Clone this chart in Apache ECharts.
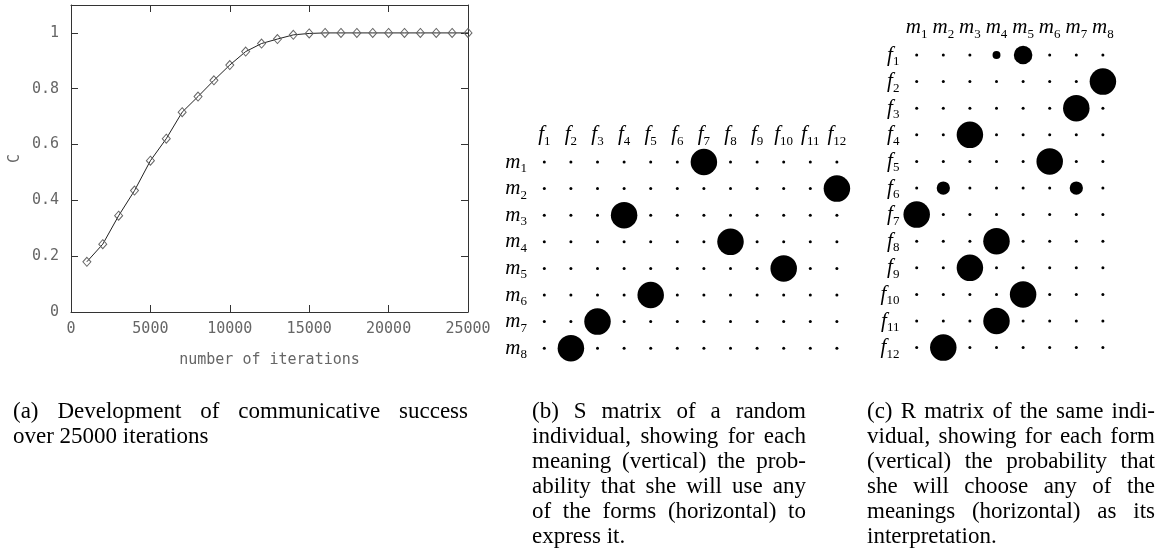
<!DOCTYPE html>
<html>
<head>
<meta charset="utf-8">
<script src="https://cdn.jsdelivr.net/npm/echarts@6/dist/echarts.min.js"></script>
<style>
  html, body { margin: 0; padding: 0; background: #fff; }
  #chart { width: 1162px; height: 552px; }
</style>
</head>
<body>
<div id="chart"></div>
<script>
// (a) communicative success over iterations
const iterations = [1000, 2000, 3000, 4000, 5000, 6000, 7000, 8000, 9000, 10000,
  11000, 12000, 13000, 14000, 15000, 16000, 17000, 18000, 19000, 20000,
  21000, 22000, 23000, 24000, 25000];
const successRate = [0.180, 0.243, 0.345, 0.435, 0.542, 0.621, 0.716, 0.772, 0.830, 0.885,
  0.933, 0.962, 0.978, 0.993, 0.998, 1, 1, 1, 1, 1,
  1, 1, 1, 1, 1];

// labels for the matrices
const formLabels = ['f1', 'f2', 'f3', 'f4', 'f5', 'f6', 'f7', 'f8', 'f9', 'f10', 'f11', 'f12'];
const meaningLabels = ['m1', 'm2', 'm3', 'm4', 'm5', 'm6', 'm7', 'm8'];

// (b) S matrix: rows = meanings, columns = forms
const sMatrix = [
  [0, 0, 0, 0, 0, 0, 1, 0, 0, 0, 0, 0],
  [0, 0, 0, 0, 0, 0, 0, 0, 0, 0, 0, 1],
  [0, 0, 0, 1, 0, 0, 0, 0, 0, 0, 0, 0],
  [0, 0, 0, 0, 0, 0, 0, 1, 0, 0, 0, 0],
  [0, 0, 0, 0, 0, 0, 0, 0, 0, 1, 0, 0],
  [0, 0, 0, 0, 1, 0, 0, 0, 0, 0, 0, 0],
  [0, 0, 1, 0, 0, 0, 0, 0, 0, 0, 0, 0],
  [0, 1, 0, 0, 0, 0, 0, 0, 0, 0, 0, 0]
];

// (c) R matrix: rows = forms, columns = meanings
const rMatrix = [
  [0, 0, 0, 0.3, 0.7, 0, 0, 0],
  [0, 0, 0, 0, 0, 0, 0, 1],
  [0, 0, 0, 0, 0, 0, 1, 0],
  [0, 0, 1, 0, 0, 0, 0, 0],
  [0, 0, 0, 0, 0, 1, 0, 0],
  [0, 0.5, 0, 0, 0, 0, 0.5, 0],
  [1, 0, 0, 0, 0, 0, 0, 0],
  [0, 0, 0, 1, 0, 0, 0, 0],
  [0, 0, 1, 0, 0, 0, 0, 0],
  [0, 0, 0, 0, 1, 0, 0, 0],
  [0, 0, 0, 1, 0, 0, 0, 0],
  [0, 1, 0, 0, 0, 0, 0, 0]
];

const captionA = ['(a) Development of communicative success', 'over 25000 iterations'];
const captionB = ['(b) S matrix of a random', 'individual, showing for each',
  'meaning (vertical) the prob-', 'ability that she will use any',
  'of the forms (horizontal) to', 'express it.'];
const captionC = ['(c) R matrix of the same indi-', 'vidual, showing for each form',
  '(vertical) the probability that', 'she will choose any of the',
  'meanings (horizontal) as its', 'interpretation.'];

const chart = echarts.init(document.getElementById('chart'));

// matrix -> [col, row, p]
function cells(matrix) {
  const out = [];
  matrix.forEach((row, i) => row.forEach((p, j) => out.push([j, i, p])));
  return out;
}

const cellSize = 26.5;
function dotSize(v) {
  return v[2] > 0 ? v[2] * cellSize : 3;
}

// italic letter with upright subscript
const subRich = {
  v: { fontFamily: 'Liberation Serif', fontStyle: 'italic', fontSize: 21, lineHeight: 26, color: '#000' },
  s: { fontFamily: 'Liberation Serif', fontSize: 13, lineHeight: 19, verticalAlign: 'bottom', color: '#000' }
};
function subLabel(t) {
  return '{v|' + t[0] + '}{s|' + t.slice(1) + '}';
}

// justified caption, one text element per word
const capFont = '23px "Liberation Serif"';
const measure = document.createElement('canvas').getContext('2d');
function captionWords(lines, x0, x1, y0) {
  measure.font = capFont;
  const space = measure.measureText(' ').width;
  const els = [];
  lines.forEach((line, i) => {
    const words = line.split(' ');
    const widths = words.map(w => measure.measureText(w).width);
    const total = widths.reduce((a, b) => a + b, 0);
    const last = i === lines.length - 1;
    const gap = (!last && words.length > 1) ? (x1 - x0 - total) / (words.length - 1) : space;
    let x = x0;
    words.forEach((w, j) => {
      els.push({
        type: 'text', x: x, y: y0 + i * 25, silent: true,
        style: { text: w, font: capFont, fill: '#000', align: 'left', verticalAlign: 'middle' }
      });
      x += widths[j] + gap;
    });
  });
  return els;
}

const monoLabel = { fontFamily: 'DejaVu Sans Mono', fontSize: 15, color: '#666' };
const boxLine = { show: true, onZero: false, lineStyle: { color: '#333', width: 1 } };
const inTick = { show: true, inside: true, length: 7, lineStyle: { color: '#333' } };

function matrixAxis(grid, labels, isX) {
  return {
    type: 'category', gridIndex: grid, data: labels,
    position: isX ? 'top' : 'left', inverse: !isX,
    axisLine: { show: false }, axisTick: { show: false }, splitLine: { show: false },
    axisLabel: { interval: 0, margin: isX ? 1 : 4, formatter: subLabel, rich: subRich }
  };
}

chart.setOption({
  animation: false,
  backgroundColor: '#fff',
  grid: [
    { left: 71, top: 5, width: 397, height: 307 },
    { left: 531, top: 148.7, width: 319.2, height: 212.8 },
    { left: 903.4, top: 41.7, width: 212.8, height: 319.2 }
  ],
  xAxis: [
    {
      type: 'value', gridIndex: 0, min: 0, max: 25000, interval: 5000,
      name: 'number of iterations', nameLocation: 'middle', nameGap: 41,
      nameTextStyle: monoLabel,
      axisLine: boxLine, axisTick: inTick, splitLine: { show: false },
      axisLabel: Object.assign({ margin: 10, formatter: v => String(v) }, monoLabel)
    },
    {
      type: 'value', gridIndex: 0, position: 'top', min: 0, max: 25000, interval: 5000,
      axisLine: boxLine, axisTick: inTick, splitLine: { show: false }, axisLabel: { show: false }
    },
    matrixAxis(1, formLabels, true),
    matrixAxis(2, meaningLabels, true)
  ],
  yAxis: [
    {
      type: 'value', gridIndex: 0, min: 0, max: 1.1, interval: 0.2,
      name: 'C', nameLocation: 'middle', nameGap: 48, nameRotate: 90,
      nameTextStyle: monoLabel,
      axisLine: boxLine, axisTick: inTick, splitLine: { show: false },
      axisLabel: Object.assign({ margin: 12, showMaxLabel: false }, monoLabel)
    },
    {
      type: 'value', gridIndex: 0, position: 'right', min: 0, max: 1.1, interval: 0.2,
      axisLine: boxLine, axisTick: inTick, splitLine: { show: false },
      axisLabel: { show: false }
    },
    matrixAxis(1, meaningLabels, false),
    matrixAxis(2, formLabels, false)
  ],
  series: [
    {
      type: 'line', xAxisIndex: 0, yAxisIndex: 0,
      data: iterations.map((x, i) => [x, successRate[i]]),
      symbol: 'diamond', symbolSize: [8, 9], showAllSymbol: true,
      lineStyle: { color: '#222', width: 1 },
      itemStyle: { color: 'rgba(255,255,255,0)', borderColor: '#666', borderWidth: 1 }
    },
    {
      type: 'scatter', xAxisIndex: 2, yAxisIndex: 2,
      data: cells(sMatrix), symbolSize: dotSize,
      itemStyle: { color: '#000', opacity: 1 }
    },
    {
      type: 'scatter', xAxisIndex: 3, yAxisIndex: 3,
      data: cells(rMatrix), symbolSize: dotSize,
      itemStyle: { color: '#000', opacity: 1 }
    }
  ],
  graphic: [].concat(
    captionWords(captionA, 13, 468, 412),
    captionWords(captionB, 532, 806, 412),
    captionWords(captionC, 867, 1155, 412)
  )
});
</script>
</body>
</html>
